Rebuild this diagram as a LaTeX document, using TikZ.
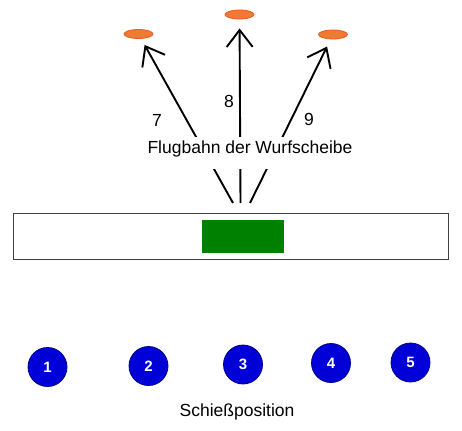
\documentclass[tikz,border=0pt]{standalone}
\usepackage{fontspec}
\setmainfont{Liberation Sans}
\usetikzlibrary{arrows.meta,shapes.geometric}
\definecolor{discfill}{RGB}{240,122,50}
\definecolor{discline}{RGB}{225,95,35}
\definecolor{standblue}{RGB}{0,0,215}
\definecolor{standline}{RGB}{0,0,140}
\definecolor{trapgreen}{RGB}{0,128,0}

\begin{document}
\begin{tikzpicture}[x=1pt,y=-1pt,>={Straight Barb[length=17pt,width=26pt]},
                    line width=1.9pt]
  \tikzstyle{disc}=[ellipse,fill=discfill,draw=discline,line width=0.8pt,
                    minimum width=29pt,minimum height=9pt,inner sep=0pt]
  \tikzstyle{stand}=[circle,fill=standblue,draw=standline,line width=0.8pt,
                     minimum size=39pt,inner sep=0pt,text=white,
                     font=\fontsize{15}{17}\selectfont\bfseries]
  \tikzstyle{label}=[font=\fontsize{17.5}{20}\selectfont]

  \useasboundingbox (0,0) rectangle (462,430);

  % house and trap
  \node[draw=black!75,line width=1pt,minimum width=435pt,minimum height=46pt,
        inner sep=0pt] (house) at (230.5,236) {};
  \node[fill=trapgreen,minimum width=82pt,minimum height=33pt,inner sep=0pt]
        (trap) at (243,236.5) {};

  % discs
  \node[disc] (d7) at (138.5,34) {};
  \node[disc] (d8) at (239.5,14.5) {};
  \node[disc] (d9) at (333,34.5) {};

  % launch points
  \coordinate (l7) at (233,203);
  \coordinate (l8) at (240.5,203);
  \coordinate (l9) at (250,203);

  \draw[->,shorten >=7pt] (l7) -- (d7);
  \draw[->,shorten >=9pt] (l8) -- (d8);
  \draw[->,shorten >=8pt] (l9) -- (d9);

  \node[label] (n7) at (157,120) {7};
  \node[label] (n8) at (229,101) {8};
  \node[label] (n9) at (309,119) {9};

  \node[label,fill=white,anchor=base,text height=14pt,text depth=12pt,
        inner xsep=1pt,inner ysep=3pt] (flight) at (250,154)
        {Flugbahn der Wurfscheibe};

  % shooting positions
  \node[stand] (s1) at (47.5,367) {1};
  \node[stand] (s2) at (148.5,366) {2};
  \node[stand] (s3) at (243,364.5) {3};
  \node[stand] (s4) at (331,363) {4};
  \node[stand] (s5) at (410.5,362.5) {5};

  \node[label,anchor=base] (pos) at (237,416) {Schießposition};
\end{tikzpicture}
\end{document}
